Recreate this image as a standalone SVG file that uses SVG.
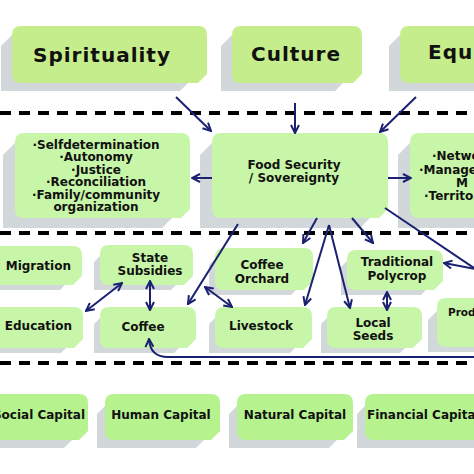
<svg xmlns="http://www.w3.org/2000/svg" width="474" height="474" viewBox="0 0 474 474">
<style>
.bg{fill:#ffffff}
.sh{fill:#d2d7da}
.gt{fill:#c6ed8b}
.gm{fill:#c8f6a8}
.gc{fill:#b6f38e}
text{font-family:"DejaVu Sans","Liberation Sans",sans-serif;font-weight:bold;fill:#111111}
.big{font-size:20px;letter-spacing:1px}
.t{font-size:12px}
.s{font-size:10.5px}
.c{text-anchor:middle}
.e{text-anchor:end}
.dash{stroke:#000;stroke-width:4;stroke-dasharray:11 8;fill:none}
.ln{stroke:#1b2170;stroke-width:2;fill:none}
</style>
<defs>
<marker id="ah" viewBox="0 0 10 10" refX="9" refY="5" markerWidth="10" markerHeight="10" markerUnits="userSpaceOnUse" orient="auto-start-reverse">
<path d="M1,1 L9,5 L1,9" fill="none" stroke="#1b2170" stroke-width="2"/>
</marker>
</defs>
<rect class="bg" x="0" y="0" width="474" height="474"/>
<g id="separators">
<line class="dash" x1="0" y1="113" x2="474" y2="113"/>
<line class="dash" x1="0" y1="233" x2="474" y2="233"/>
<line class="dash" x1="0" y1="363" x2="474" y2="363"/>
</g>
<g id="spirituality">
<path class="sh" d="M1,46 L13,34 H196 V75 L180,91 H1 Z"/>
<path class="gt" d="M21,26 H198 Q207,26 207,35 V74 L198,83 H21 Q12,83 12,74 V35 Q12,26 21,26 Z"/>
<text class="big c" x="102" y="62">Spirituality</text>
</g>
<g id="culture">
<path class="sh" d="M221,46 L233,34 H351 V75 L335,91 H221 Z"/>
<path class="gt" d="M241,26 H353 Q362,26 362,35 V74 L353,83 H241 Q232,83 232,74 V35 Q232,26 241,26 Z"/>
<text class="big c" x="296" y="60.5">Culture</text>
</g>
<g id="equity">
<path class="sh" d="M389,46 L401,34 H519 V75 L503,91 H389 Z"/>
<path class="gt" d="M409,26 H521 Q530,26 530,35 V74 L521,83 H409 Q400,83 400,74 V35 Q400,26 409,26 Z"/>
<text class="big" x="428" y="59">Equity</text>
</g>
<g id="values">
<path class="sh" d="M3,155 L15,143 H178 V212 L162,228 H3 Z"/>
<path class="gm" d="M24,133 H181 Q190,133 190,142 V209 L181,218 H24 Q15,218 15,209 V142 Q15,133 24,133 Z"/>
<text class="t c" x="96" y="148.5">·Selfdetermination</text>
<text class="t c" x="96" y="161">·Autonomy</text>
<text class="t c" x="96" y="173.5">·Justice</text>
<text class="t c" x="96" y="186">·Reconciliation</text>
<text class="t c" x="96" y="198.5">·Family/community</text>
<text class="t c" x="96" y="211">organization</text>
</g>
<g id="food-security">
<path class="sh" d="M200,155 L212,143 H376 V212 L360,228 H200 Z"/>
<path class="gm" d="M221,133 H379 Q388,133 388,142 V209 L379,218 H221 Q212,218 212,209 V142 Q212,133 221,133 Z"/>
<text class="t c" x="294" y="168.5">Food Security</text>
<text class="t c" x="294" y="182">/ Sovereignty</text>
</g>
<g id="networks">
<path class="sh" d="M398,155 L410,143 H528 V212 L512,228 H398 Z"/>
<path class="gm" d="M419,133 H531 Q540,133 540,142 V209 L531,218 H419 Q410,218 410,209 V142 Q410,133 419,133 Z"/>
<text class="t" x="432" y="160">·Networks</text>
<text class="t" x="419" y="173.5">·Management</text>
<text class="t" x="456" y="187">M</text>
<text class="t" x="424" y="200">·Territory</text>
</g>
<g id="migration">
<path class="sh" d="M-16,263 L-4,251 H76 V274 L60,290 H-16 Z"/>
<path class="gm" d="M-1,246 H73 Q82,246 82,255 V276 L73,285 H-1 Q-10,285 -10,276 V255 Q-10,246 -1,246 Z"/>
<text class="t e" x="71" y="269.5">Migration</text>
</g>
<g id="state-subsidies">
<path class="sh" d="M94,262 L106,250 H187 V274 L171,290 H94 Z"/>
<path class="gm" d="M109,245 H184 Q193,245 193,254 V276 L184,285 H109 Q100,285 100,276 V254 Q100,245 109,245 Z"/>
<text class="t c" x="150" y="262">State</text>
<text class="t c" x="150" y="274.5">Subsidies</text>
</g>
<g id="coffee-orchard">
<path class="sh" d="M209,265 L221,253 H307 V279 L291,295 H209 Z"/>
<path class="gm" d="M224,248 H304 Q313,248 313,257 V281 L304,290 H224 Q215,290 215,281 V257 Q215,248 224,248 Z"/>
<text class="t c" x="262" y="268.5">Coffee</text>
<text class="t c" x="262" y="282.5">Orchard</text>
</g>
<g id="traditional-polycrop">
<path class="sh" d="M341,267 L353,255 H437 V279 L421,295 H341 Z"/>
<path class="gm" d="M356,250 H434 Q443,250 443,259 V281 L434,290 H356 Q347,290 347,281 V259 Q347,250 356,250 Z"/>
<text class="t c" x="397" y="266">Traditional</text>
<text class="t c" x="397" y="279.5">Polycrop</text>
</g>
<g id="education">
<path class="sh" d="M-16,324 L-4,312 H77 V337 L61,353 H-16 Z"/>
<path class="gm" d="M-1,307 H74 Q83,307 83,316 V339 L74,348 H-1 Q-10,348 -10,339 V316 Q-10,307 -1,307 Z"/>
<text class="t e" x="72" y="330">Education</text>
</g>
<g id="coffee">
<path class="sh" d="M94,324 L106,312 H190 V337 L174,353 H94 Z"/>
<path class="gm" d="M109,307 H187 Q196,307 196,316 V339 L187,348 H109 Q100,348 100,339 V316 Q100,307 109,307 Z"/>
<text class="t c" x="143" y="330.5">Coffee</text>
</g>
<g id="livestock">
<path class="sh" d="M209,324 L221,312 H306 V337 L290,353 H209 Z"/>
<path class="gm" d="M224,307 H303 Q312,307 312,316 V339 L303,348 H224 Q215,348 215,339 V316 Q215,307 224,307 Z"/>
<text class="t c" x="261" y="330">Livestock</text>
</g>
<g id="local-seeds">
<path class="sh" d="M321,324 L333,312 H416 V337 L400,353 H321 Z"/>
<path class="gm" d="M336,307 H413 Q422,307 422,316 V339 L413,348 H336 Q327,348 327,339 V316 Q327,307 336,307 Z"/>
<text class="t c" x="373" y="326.5">Local</text>
<text class="t c" x="373" y="339.5">Seeds</text>
</g>
<g id="production">
<path class="sh" d="M428,320 L440,308 H491 V336 L475,352 H428 Z"/>
<path class="gm" d="M446,298 H491 Q500,298 500,307 V338 L491,347 H446 Q437,347 437,338 V307 Q437,298 446,298 Z"/>
<text class="s" x="448" y="316">Production</text>
</g>
<g id="social-capital">
<path class="sh" d="M-18,414 L-6,402 H80 V432 L64,448 H-18 Z"/>
<path class="gc" d="M-1,394 H79 Q88,394 88,403 V431 L79,440 H-1 Q-10,440 -10,431 V403 Q-10,394 -1,394 Z"/>
<text class="t e" x="85" y="418.5">Social Capital</text>
</g>
<g id="human-capital">
<path class="sh" d="M97,414 L109,402 H212 V432 L196,448 H97 Z"/>
<path class="gc" d="M114,394 H211 Q220,394 220,403 V431 L211,440 H114 Q105,440 105,431 V403 Q105,394 114,394 Z"/>
<text class="t c" x="161" y="418.5">Human Capital</text>
</g>
<g id="natural-capital">
<path class="sh" d="M229,414 L241,402 H345 V432 L329,448 H229 Z"/>
<path class="gc" d="M246,394 H344 Q353,394 353,403 V431 L344,440 H246 Q237,440 237,431 V403 Q237,394 246,394 Z"/>
<text class="t c" x="295" y="418.5">Natural Capital</text>
</g>
<g id="financial-capital">
<path class="sh" d="M357,414 L369,402 H492 V432 L476,448 H357 Z"/>
<path class="gc" d="M374,394 H491 Q500,394 500,403 V431 L491,440 H374 Q365,440 365,431 V403 Q365,394 374,394 Z"/>
<text class="t" x="367" y="418.5">Financial Capital</text>
</g>
<g id="connectors">
<path class="ln" d="M176,97 L211,131" marker-end="url(#ah)"/>
<path class="ln" d="M295,103 L295,133" marker-end="url(#ah)"/>
<path class="ln" d="M416,97 L380,132" marker-end="url(#ah)"/>
<path class="ln" d="M212,178 L192,178" marker-end="url(#ah)"/>
<path class="ln" d="M388,178 L411,178" marker-end="url(#ah)"/>
<path class="ln" d="M238,224 L188,304" marker-end="url(#ah)"/>
<path class="ln" d="M205,287 L232,307" marker-start="url(#ah)" marker-end="url(#ah)"/>
<path class="ln" d="M317,218 L303,243" marker-end="url(#ah)"/>
<path class="ln" d="M329,225 L305,305" marker-end="url(#ah)"/>
<path class="ln" d="M329,225 L350,308" marker-end="url(#ah)"/>
<path class="ln" d="M352,218 L373,243" marker-end="url(#ah)"/>
<path class="ln" d="M385,208 L480,272"/>
<path class="ln" d="M480,270 L444,263" marker-end="url(#ah)"/>
<path class="ln" d="M122,283 L86,311" marker-start="url(#ah)" marker-end="url(#ah)"/>
<path class="ln" d="M150,281 L150,310" marker-start="url(#ah)" marker-end="url(#ah)"/>
<path class="ln" d="M387,292 L387,310" marker-start="url(#ah)" marker-end="url(#ah)"/>
<path class="ln" d="M476,357 H168 Q150,357 149,339" marker-end="url(#ah)"/>
</g>
</svg>
